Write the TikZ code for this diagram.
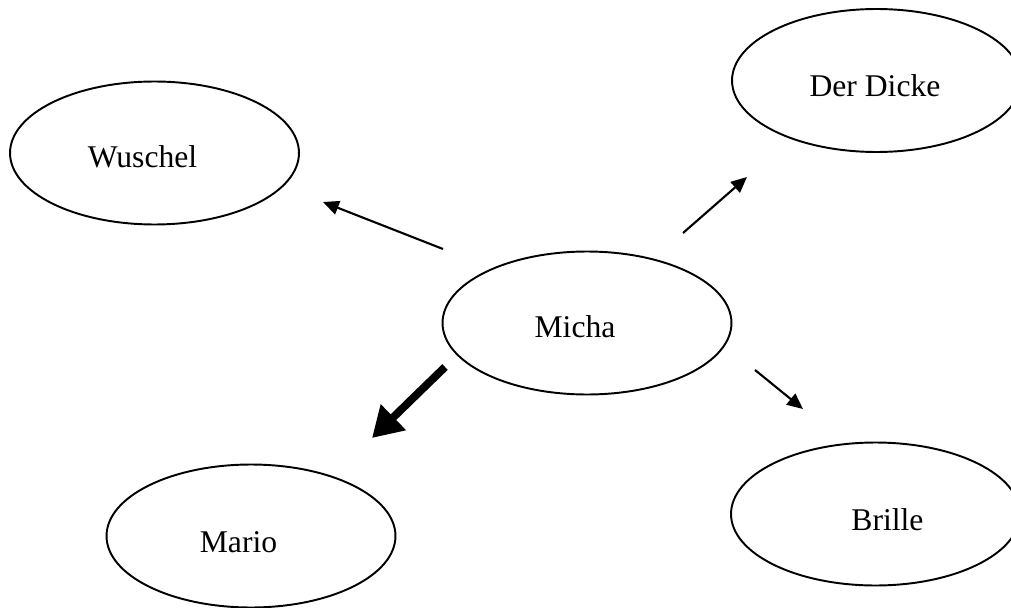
\documentclass[tikz,border=0pt]{standalone}
\usepackage{fontspec}
\setmainfont{Liberation Serif}
\usetikzlibrary{arrows.meta,shapes.geometric}

\begin{document}
\begin{tikzpicture}[
  x=0.02cm, y=-0.02cm,
  pers/.style={ellipse, draw=black, line width=1.1pt,
               minimum width=5.78cm, minimum height=2.86cm, inner sep=0pt},
  plbl/.style={font=\fontsize{18}{20}\selectfont, inner sep=0pt, anchor=base},
  arr/.style={-{Triangle[length=9pt,width=8pt]}, line width=1.2pt},
  bigarr/.style={-{Triangle[length=17pt,width=19.5pt]}, line width=4.5pt}
]
\useasboundingbox (0,0) rectangle (1011,608);

% Centre
\node[pers] (micha) at (587,323) {};
\node[plbl] (micha-t) at (575,337) {Micha};

% Top left
\node[pers] (wuschel) at (154.5,153) {};
\node[plbl] (wuschel-t) at (142.5,168) {Wuschel};

% Top right
\node[pers] (dicke) at (876.5,80.5) {};
\node[plbl] (dicke-t) at (875,97) {Der Dicke};

% Bottom left
\node[pers] (mario) at (251,536) {};
\node[plbl] (mario-t) at (238.5,552) {Mario};

% Bottom right
\node[pers] (brille) at (875.5,514) {};
\node[plbl] (brille-t) at (887.5,530) {Brille};

% Arrow ends
\coordinate (w-tail) at (443,249);
\coordinate (w-tip) at (323,202);
\coordinate (d-tail) at (683,233);
\coordinate (d-tip) at (747,177);
\coordinate (b-tail) at (755,370);
\coordinate (b-tip) at (803,409);
\coordinate (m-tail) at (445,367);
\coordinate (m-tip) at (372,438);

% Arrows
\draw[arr] (w-tail) -- (w-tip);
\draw[arr] (d-tail) -- (d-tip);
\draw[arr] (b-tail) -- (b-tip);
\draw[bigarr] (m-tail) -- (m-tip);
\end{tikzpicture}
\end{document}
